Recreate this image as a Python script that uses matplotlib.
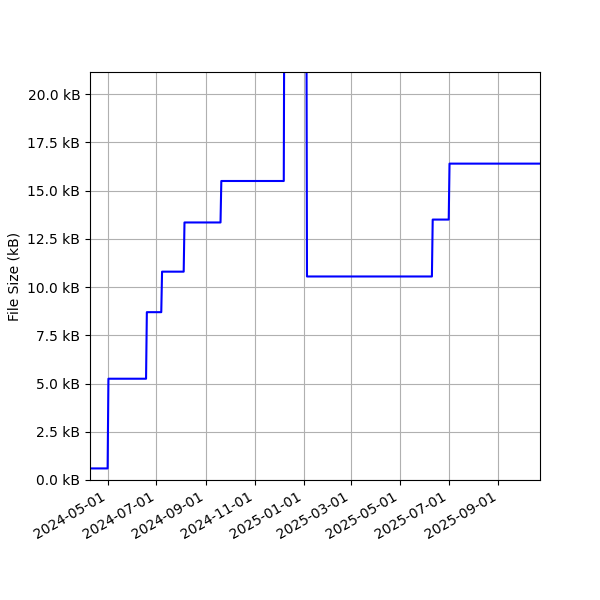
import matplotlib
matplotlib.use("Agg")
import matplotlib.pyplot as plt
import matplotlib.dates as mdates
import matplotlib.ticker as mticker
import numpy as np

dates = ["2024-04-09", "2024-05-01", "2024-05-02", "2024-06-18", "2024-06-19",
         "2024-07-07", "2024-07-08", "2024-08-04", "2024-08-05", "2024-09-19",
         "2024-09-20", "2024-12-07", "2024-12-08", "2025-01-04", "2025-01-05",
         "2025-06-10", "2025-06-11", "2025-07-01", "2025-07-02", "2025-10-23"]
sizes_kb = [0.6, 0.6, 5.25, 5.25, 8.7, 8.7, 10.8, 10.8, 13.35, 13.35,
            15.5, 15.5, 30.0, 30.0, 10.55, 10.55, 13.5, 13.5, 16.4, 16.4]

x = np.array(dates, dtype="datetime64[D]")
fig, ax = plt.subplots(figsize=(6, 6), dpi=100)
fig.subplots_adjust(left=0.15, right=0.9, bottom=0.2, top=0.88)
ax.plot(x, sizes_kb, color="blue")
ax.set_xlim(x[0], x[-1])
ax.set_ylim(0, 21.15)
ax.yaxis.set_major_locator(mticker.MultipleLocator(2.5))
ax.yaxis.set_major_formatter(mticker.FuncFormatter(lambda v, p: f"{v:.1f} kB"))
ax.xaxis.set_major_locator(mdates.MonthLocator(bymonth=[1, 3, 5, 7, 9, 11]))
ax.xaxis.set_major_formatter(mdates.DateFormatter("%Y-%m-%d"))
ax.set_ylabel("File Size (kB)")
ax.grid(True)
fig.autofmt_xdate()
fig.savefig("out.png")
